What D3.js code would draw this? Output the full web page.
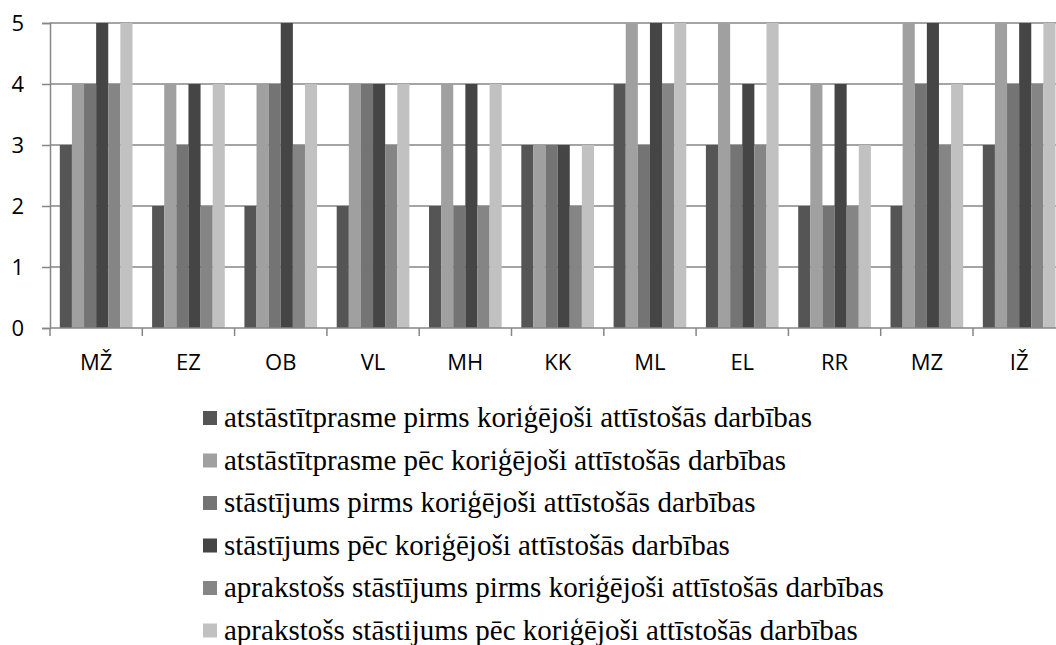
<!DOCTYPE html>
<html>
<head>
<meta charset="utf-8">
<script src="https://cdn.jsdelivr.net/npm/d3@7"></script>
<style>
  body { margin: 0; background: #fff; }
</style>
</head>
<body>
<div id="chart"></div>
<script>
// categories (people)
const categories = ['MŽ', 'EZ', 'OB', 'VL', 'MH', 'KK', 'ML', 'EL', 'RR', 'MZ', 'IŽ'];

const seriesNames = [
  'atstāstītprasme pirms koriģējoši attīstošās darbības',
  'atstāstītprasme pēc koriģējoši attīstošās darbības',
  'stāstījums pirms koriģējoši attīstošās darbības',
  'stāstījums pēc koriģējoši attīstošās darbības',
  'aprakstošs stāstījums pirms koriģējoši attīstošās darbības',
  'aprakstošs stāstijums pēc koriģējoši attīstošās darbības'
];

// one array per series, same order as categories
const retellBefore   = [3, 2, 2, 2, 2, 3, 4, 3, 2, 2, 3];
const retellAfter    = [4, 4, 4, 4, 4, 3, 5, 5, 4, 5, 5];
const storyBefore    = [4, 3, 4, 4, 2, 3, 3, 3, 2, 4, 4];
const storyAfter     = [5, 4, 5, 4, 4, 3, 5, 4, 4, 5, 5];
const descrBefore    = [4, 2, 3, 3, 2, 2, 4, 3, 2, 3, 4];
const descrAfter     = [5, 4, 4, 4, 4, 3, 5, 5, 3, 4, 5];

const yTicks = [0, 1, 2, 3, 4, 5];

const seriesValues = [retellBefore, retellAfter, storyBefore, storyAfter, descrBefore, descrAfter];
const colors = ['#555555', '#a0a0a0', '#747474', '#454545', '#858585', '#c1c1c1'];

const W = 1056, H = 645;
const margin = { top: 23, left: 50, bottom: 328 };
const bandStep = 92.3;
const sansFont = '"Open Sans", sans-serif';
const serifFont = '"Liberation Serif", serif';

const svg = d3.select('#chart').append('svg')
  .attr('width', W)
  .attr('height', H);

// scales
const x = d3.scaleBand()
  .domain(categories)
  .range([margin.left, margin.left + bandStep * categories.length])
  .paddingInner(0).paddingOuter(0);

const xInner = d3.scaleBand()
  .domain(d3.range(seriesNames.length))
  .range([0, x.bandwidth()])
  .paddingInner(0).paddingOuter(0.81);

const y = d3.scaleLinear().domain([0, 5]).range([margin.bottom, margin.top]);

const gridColor = '#868686';

// gridlines
svg.append('g').selectAll('line')
  .data(yTicks.filter(d => d > 0))
  .join('line')
  .attr('x1', margin.left).attr('x2', W)
  .attr('y1', d => y(d)).attr('y2', d => y(d))
  .attr('stroke', gridColor).attr('stroke-width', 1.5);

// bars
const rows = categories.map((c, i) => ({ cat: c, vals: seriesValues.map(s => s[i]) }));
svg.append('g').selectAll('g')
  .data(rows)
  .join('g')
  .attr('transform', d => `translate(${x(d.cat)},0)`)
  .selectAll('rect')
  .data(d => d.vals.map((v, k) => ({ k, v })))
  .join('rect')
  .attr('x', d => xInner(d.k))
  .attr('width', xInner.bandwidth())
  .attr('y', d => y(d.v))
  .attr('height', d => y(0) - y(d.v))
  .attr('fill', d => colors[d.k]);

// y axis
const yAxis = svg.append('g').attr('transform', `translate(${margin.left},0)`)
  .call(d3.axisLeft(y).tickValues(yTicks).tickSize(8).tickPadding(18).tickFormat(d3.format('d')))
  .attr('font-family', sansFont).attr('font-size', 22);
yAxis.select('.domain').attr('stroke', gridColor).attr('stroke-width', 1.5);
yAxis.selectAll('.tick line').attr('stroke', gridColor).attr('stroke-width', 1.5);
yAxis.selectAll('.tick text').attr('fill', '#000');

// x axis: ticks at band boundaries, labels centred
const xAxis = svg.append('g').attr('transform', `translate(0,${margin.bottom})`);
xAxis.append('line')
  .attr('x1', margin.left).attr('x2', W)
  .attr('stroke', gridColor).attr('stroke-width', 1.5);
xAxis.selectAll('.xtick')
  .data(categories.concat(['end']))
  .join('line')
  .attr('class', 'xtick')
  .attr('x1', (d, i) => margin.left + i * x.step())
  .attr('x2', (d, i) => margin.left + i * x.step())
  .attr('y1', 0).attr('y2', 8)
  .attr('stroke', gridColor).attr('stroke-width', 1.5);
xAxis.selectAll('.xlabel')
  .data(categories)
  .join('text')
  .attr('class', 'xlabel')
  .attr('font-family', sansFont).attr('font-size', 22).attr('fill', '#000')
  .attr('x', d => x(d) + x.bandwidth() / 2)
  .attr('y', 42)
  .attr('text-anchor', 'middle')
  .text(d => d);

// legend
const legend = svg.append('g').attr('class', 'legend');
const item = legend.selectAll('.item')
  .data(seriesNames)
  .join('g')
  .attr('class', 'item')
  .attr('transform', (d, i) => `translate(203,${411 + i * 42.5})`);
item.append('rect')
  .attr('width', 14).attr('height', 14)
  .attr('fill', (d, i) => colors[i]);
item.append('text')
  .attr('x', 21).attr('y', 16)
  .attr('font-family', serifFont).attr('font-size', 29).attr('fill', '#000')
  .text(d => d);
</script>
</body>
</html>
